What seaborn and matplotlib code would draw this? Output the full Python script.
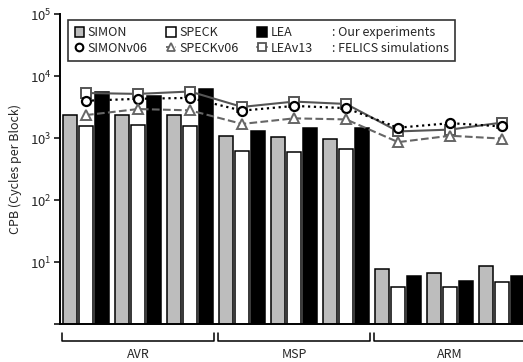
import pandas as pd
import numpy as np
import matplotlib
matplotlib.use('Agg')
import matplotlib.pyplot as plt
import matplotlib.transforms as mtransforms
from matplotlib.patches import Patch
from matplotlib.lines import Line2D
import seaborn as sns

# data (cycles per block, log scale)
groups = ['AVR-1', 'AVR-2', 'AVR-3', 'MSP-1', 'MSP-2', 'MSP-3', 'ARM-1', 'ARM-2', 'ARM-3']
platforms = ['AVR', 'MSP', 'ARM']
simon = [2400, 2350, 2400, 1090, 1050, 960, 7.7, 6.7, 8.6]
speck = [1560, 1630, 1540, 630, 590, 660, 3.9, 3.9, 4.8]
lea = [5640, 4750, 6200, 1310, 1450, 1450, 5.9, 4.9, 5.9]
simon_v06 = [4000, 4300, 4450, 2770, 3300, 3040, 1470, 1740, 1540]
speck_v06 = [2350, 2940, 2800, 1690, 2080, 2000, 860, 1090, 980]
lea_v13 = [5330, 5160, 5640, 3180, 3880, 3550, 1280, 1370, 1780]

sns.set_style('white')
plt.rcParams['font.family'] = ['Noto Sans CJK KR', 'DejaVu Sans']
plt.rcParams['mathtext.default'] = 'regular'
FS = 9

df = pd.DataFrame({
    'group': groups * 3,
    'cipher': ['SIMON'] * 9 + ['SPECK'] * 9 + ['LEA'] * 9,
    'cpb': simon + speck + lea,
})
pal = {'SIMON': '#bdbdbd', 'SPECK': 'white', 'LEA': 'black'}

fig = plt.figure(figsize=(5.23, 3.62), dpi=100)
ax = fig.add_axes([0.1147, 0.105, 0.8853, 0.856])

sns.barplot(data=df, x='group', y='cpb', hue='cipher', order=groups,
            hue_order=['SIMON', 'SPECK', 'LEA'], palette=pal, width=0.92, gap=0.1,
            edgecolor='black', linewidth=1.1, legend=False, ax=ax, errorbar=None)
ax.set_yscale('log')

pos = np.arange(len(groups))
sns.lineplot(x=pos, y=lea_v13, ax=ax, color='#555555', lw=1.5, marker='s', ms=6.5,
             mfc='white', mec='#555555', mew=1.4)
sns.lineplot(x=pos, y=simon_v06, ax=ax, color='black', lw=1.6, ls=':', marker='o', ms=6.5,
             mfc='white', mec='black', mew=1.6)
sns.lineplot(x=pos, y=speck_v06, ax=ax, color='#666666', lw=1.5, ls='--', marker='^', ms=6.5,
             mfc='white', mec='#666666', mew=1.4)

ax.set_ylim(1, 1e5)
ax.set_xlim(-0.5, 8.4)
ax.set_yticks([1, 10, 100, 1e3, 1e4, 1e5])
ax.set_yticklabels(['', '$10^1$', '$10^2$', '$10^3$', '$10^4$', '$10^5$'])
ax.minorticks_off()
ax.tick_params(axis='y', direction='out', length=4, width=1.3, left=True, labelsize=FS + 0.5, pad=2)
ax.set_xticks([])
ax.set_xlabel('')
ax.set_ylabel('CPB (Cycles per Block)', fontsize=FS, labelpad=6)
for s in ['top', 'right']:
    ax.spines[s].set_visible(False)
for s in ['left', 'bottom']:
    ax.spines[s].set_color('black')
    ax.spines[s].set_linewidth(1.4)

# platform brackets under the axis
trans = mtransforms.blended_transform_factory(ax.transData, ax.transAxes)
for i, name in enumerate(platforms):
    x0, x1 = 3 * i - 0.46, 3 * i + 2 + 0.46
    ax.plot([x0, x0, x1, x1], [-0.029, -0.055, -0.055, -0.029], color='black',
            lw=1.1, transform=trans, clip_on=False)
    ax.text(3 * i + 1, -0.10, name, transform=trans, ha='center', va='center', fontsize=FS)

handles = [
    Patch(facecolor='#bdbdbd', edgecolor='black', lw=1.1),
    Line2D([], [], color='black', ls=':', marker='o', mfc='white', mec='black', ms=5.5, mew=1.5, lw=1.4),
    Patch(facecolor='white', edgecolor='black', lw=1.1),
    Line2D([], [], color='#666666', ls='--', marker='^', mfc='white', mec='#666666', ms=5.5, mew=1.3, lw=1.3),
    Patch(facecolor='black', edgecolor='black', lw=1.1),
    Line2D([], [], color='#555555', ls='-', marker='s', mfc='white', mec='#555555', ms=5.5, mew=1.3, lw=1.3),
    Line2D([], [], color='none'),
    Line2D([], [], color='none'),
]
labels = ['SIMON', 'SIMONv06', 'SPECK', 'SPECKv06', 'LEA', 'LEAv13',
          ': Our experiments', ': FELICS simulations']
leg = ax.legend(handles, labels, ncol=4, loc='upper left', bbox_to_anchor=(0.018, 0.981),
                fontsize=FS, frameon=True, fancybox=False, handlelength=0.75, handleheight=0.8,
                handletextpad=0.3, columnspacing=1.5, labelspacing=0.2,
                borderpad=0.5, borderaxespad=0)
leg.get_frame().set_edgecolor('black')
leg.get_frame().set_linewidth(1.2)

# the last column is text only: drop its empty handle slot
for item in leg._legend_handle_box.get_children()[-1].get_children():
    item.sep = 0
    item.get_children()[0].width = 0

fig.savefig('out.png', dpi=100)
